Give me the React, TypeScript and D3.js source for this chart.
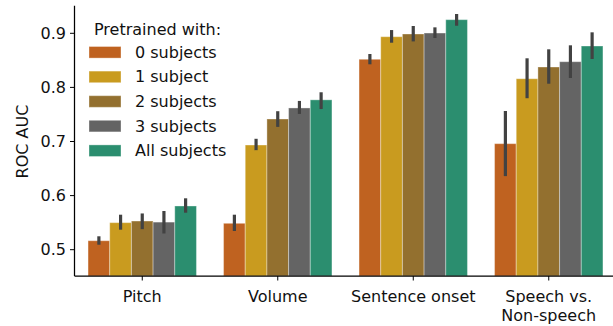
import React from "react";
import * as d3 from "d3";

const categories = ["Pitch", "Volume", "Sentence onset", "Speech vs.\nNon-speech"];
const groups = ["0 subjects", "1 subject", "2 subjects", "3 subjects", "All subjects"];
const colors = ["#bf6220", "#c99b1f", "#93702f", "#646464", "#2b8e6f"];

// mean ROC AUC per category, one array per pretraining group
const means = [
  [0.5166, 0.5488, 0.852, 0.696],
  [0.550, 0.6935, 0.8937, 0.816],
  [0.553, 0.7416, 0.8987, 0.8377],
  [0.551, 0.762, 0.9005, 0.8475],
  [0.5808, 0.777, 0.9252, 0.8765],
];
// confidence interval bounds
const ciLow = [
  [0.5092, 0.5346, 0.8427, 0.636],
  [0.537, 0.684, 0.8826, 0.780],
  [0.538, 0.727, 0.885, 0.8068],
  [0.530, 0.751, 0.8913, 0.8174],
  [0.5684, 0.760, 0.914, 0.8525],
];
const ciHigh = [
  [0.5248, 0.5647, 0.8617, 0.7564],
  [0.5647, 0.705, 0.906, 0.8538],
  [0.567, 0.756, 0.9135, 0.8704],
  [0.5715, 0.775, 0.911, 0.8778],
  [0.595, 0.791, 0.9357, 0.9018],
];
const yTicks = [0.5, 0.6, 0.7, 0.8, 0.9];

const W = 613;
const H = 326;
const FONT = "DejaVu Sans, sans-serif";
const TEXT = "#111";

export default function App() {
  const x = d3.scaleLinear().domain([-0.5, 3.5]).range([74.5, 616.5]);
  const y = d3.scaleLinear().domain([0.5, 0.9]).range([249.7, 33.3]);
  const yBottom = 276;
  const yTop = 5.7;
  const barW = 0.8 / groups.length;

  return (
    <svg
      width={W}
      height={H}
      style={{ position: "absolute", left: 0, top: 0 }}
      fontFamily={FONT}
    >
      <rect width={W} height={H} fill="#fff" />
      {/* bars */}
      {groups.map((g, j) =>
        categories.map((c, i) => {
          const x0 = x(i - 0.4 + barW * j);
          const x1 = x(i - 0.4 + barW * (j + 1));
          const top = y(means[j][i]);
          return (
            <rect
              key={`b-${j}-${i}`}
              x={x0}
              y={top}
              width={x1 - x0}
              height={yBottom - top}
              fill={colors[j]}
              stroke="rgba(255,255,255,0.35)"
              strokeWidth={1}
            />
          );
        })
      )}
      {/* error bars */}
      {groups.map((g, j) =>
        categories.map((c, i) => {
          const cx = x(i - 0.4 + barW * (j + 0.5));
          return (
            <line
              key={`e-${j}-${i}`}
              x1={cx}
              x2={cx}
              y1={y(ciLow[j][i])}
              y2={y(ciHigh[j][i])}
              stroke="#424242"
              strokeWidth={3.2}
            />
          );
        })
      )}
      {/* axes */}
      <line x1={74.5} x2={74.5} y1={yTop} y2={yBottom} stroke="#000" strokeWidth={1.25} />
      <line x1={74.5} x2={W + 5} y1={yBottom} y2={yBottom} stroke="#000" strokeWidth={1.25} />
      {yTicks.map((t) => (
        <g key={`yt-${t}`}>
          <line x1={70} x2={74.5} y1={y(t)} y2={y(t)} stroke="#000" strokeWidth={1} />
          <text
            x={66}
            y={y(t)}
            textAnchor="end"
            dominantBaseline="central"
            fontSize={16}
            fill={TEXT}
          >
            {t.toFixed(1)}
          </text>
        </g>
      ))}
      {categories.map((c, i) => (
        <g key={`xt-${i}`}>
          <line x1={x(i)} x2={x(i)} y1={yBottom} y2={yBottom + 4.5} stroke="#000" strokeWidth={1} />
          {c.split("\n").map((line, k) => (
            <text
              key={k}
              x={x(i)}
              y={301.5 + k * 19.5}
              textAnchor="middle"
              fontSize={16}
              fill={TEXT}
            >
              {line}
            </text>
          ))}
        </g>
      ))}
      <text
        transform={`translate(27.5, ${141.5}) rotate(-90)`}
        textAnchor="middle"
        fontSize={16}
        fill={TEXT}
      >
        ROC AUC
      </text>
      {/* legend */}
      <text x={94} y={35} fontSize={16} fill={TEXT}>
        Pretrained with:
      </text>
      {groups.map((g, j) => {
        const cy = 52.3 + j * 24.6;
        return (
          <g key={`lg-${j}`}>
            <rect
              x={89}
              y={cy - 5.8}
              width={32}
              height={11.6}
              fill={colors[j]}
              stroke="rgba(255,255,255,0.35)"
              strokeWidth={1}
            />
            <text x={135} y={cy} dominantBaseline="central" fontSize={16} fill={TEXT}>
              {g}
            </text>
          </g>
        );
      })}
    </svg>
  );
}
